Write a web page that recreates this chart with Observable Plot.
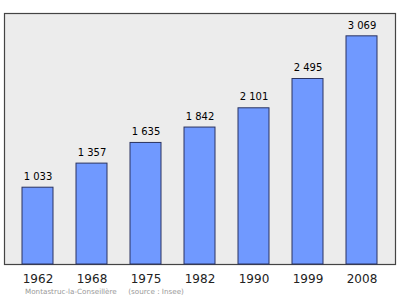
<!DOCTYPE html>
<html><head><meta charset="utf-8">
<script src="https://cdn.jsdelivr.net/npm/d3@7"></script>
<script src="https://cdn.jsdelivr.net/npm/@observablehq/plot@0.6"></script>
<style>
body{margin:0;background:#fff;font-family:"DejaVu Sans",sans-serif;overflow:hidden;}
#chart{position:absolute;left:0;top:0;}
#cap{position:absolute;left:25px;top:287px;font-size:7.2px;color:#999;white-space:pre;}
</style></head><body>
<div id="chart"></div>
<div id="cap">Montastruc-la-Conseillère     (source : Insee)</div>
<script>
const years = ["1962","1968","1975","1982","1990","1999","2008"];
const population = [1033,1357,1635,1842,2101,2495,3069];
const labels = ["1 033","1 357","1 635","1 842","2 101","2 495","3 069"];
const data = years.map((y,i)=>({year:y,pop:population[i],label:labels[i]}));
const chart = Plot.plot({
  width:400, height:299,
  marginTop:13, marginBottom:35, marginLeft:4, marginRight:5,
  style:{fontFamily:"DejaVu Sans, sans-serif", background:"transparent"},
  x:{domain:years, paddingInner:0.43, paddingOuter:0.28, label:null},
  y:{domain:[0,3376], axis:null},
  marks:[
    Plot.frame({fill:"#ececec", stroke:"#444", strokeWidth:1.2}),
    Plot.barY(data,{x:"year", y:"pop", fill:"#7099ff", stroke:"#2a3360", strokeWidth:1}),
    Plot.text(data,{x:"year", y:"pop", text:"label", dy:-11, fontSize:10, fill:"#000"}),
    Plot.axisX({tickSize:0, tickPadding:10, fontSize:12, fill:"#222"})
  ]
});
document.getElementById("chart").appendChild(chart);
</script>
</body></html>
